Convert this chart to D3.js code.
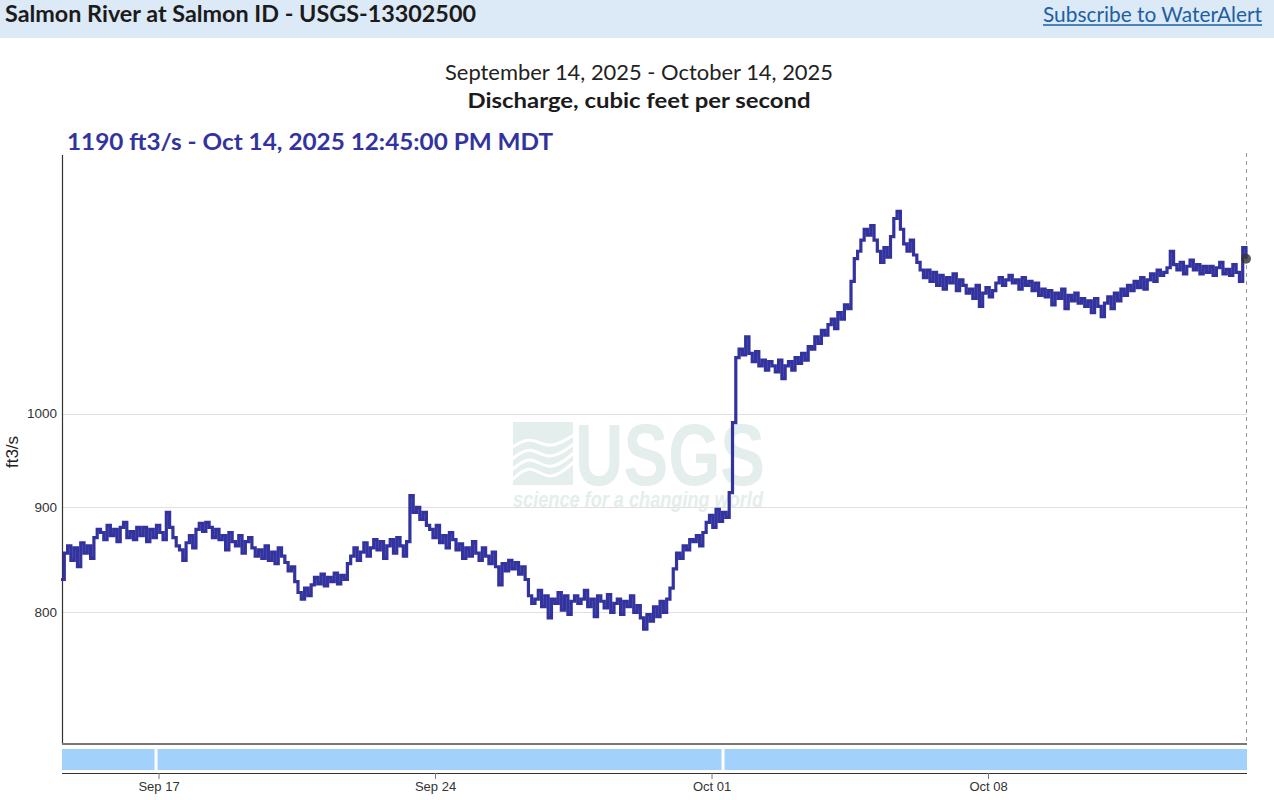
<!DOCTYPE html>
<html>
<head>
<meta charset="utf-8">
<script src="https://cdn.jsdelivr.net/npm/d3@7"></script>
<style>
  html, body { margin: 0; padding: 0; background: #fff; }
  svg { display: block; }
</style>
</head>
<body>
<svg id="chart" width="1274" height="800"></svg>
<script>
// ---- data ----
const stationTitle = "Salmon River at Salmon ID - USGS-13302500";
const linkText = "Subscribe to WaterAlert";
const dateRangeText = "September 14, 2025 - October 14, 2025";
const paramText = "Discharge, cubic feet per second";
const latestText = "1190 ft3/s - Oct 14, 2025 12:45:00 PM MDT";
const yLabel = "ft3/s";
const startTime = "2025-09-14T12:45:00Z";   // MDT shown as wall-clock
const endTime = "2025-10-14T12:45:00Z";
const stepHours = 2;
const yTicks = [800, 900, 1000];
const xTicks = ["2025-09-17", "2025-09-24", "2025-10-01", "2025-10-08"];
const barBreaks = ["2025-09-16T22:30:00Z", "2025-10-01T07:00:00Z"];
const discharge = [
  830, 855, 862, 848, 860, 842, 865, 855, 862, 850, 870, 878,
  875, 868, 882, 872, 878, 866, 880, 885, 870, 876, 868, 880,
  872, 880, 866, 878, 870, 882, 875, 868, 895, 880, 870, 862,
  858, 848, 865, 872, 860, 878, 884, 876, 885, 880, 870, 878,
  868, 872, 858, 875, 866, 862, 872, 855, 866, 870, 860, 852,
  858, 850, 862, 848, 856, 845, 860, 852, 846, 838, 842, 828,
  818, 812, 822, 815, 825, 832, 826, 835, 824, 832, 828, 836,
  826, 834, 830, 845, 852, 860, 848, 856, 865, 852, 860, 868,
  858, 866, 850, 862, 868, 855, 870, 862, 852, 866, 912, 895,
  900, 888, 895, 882, 878, 870, 882, 865, 872, 860, 875, 868,
  858, 864, 850, 860, 852, 866, 855, 848, 860, 852, 845, 856,
  842, 825, 845, 838, 848, 840, 846, 835, 842, 830, 815, 808,
  812, 820, 805, 815, 795, 812, 808, 818, 802, 815, 798, 810,
  815, 808, 812, 820, 805, 812, 796, 815, 810, 804, 816, 800,
  808, 812, 798, 810, 805, 815, 800, 806, 795, 785, 798, 792,
  805, 796, 810, 800, 812, 822, 840, 855, 850, 862, 858, 868,
  866, 872, 862, 875, 885, 892, 880, 898, 886, 895, 890, 915,
  990, 1065, 1075, 1068, 1090, 1070, 1060, 1072, 1055, 1062, 1050, 1060,
  1055, 1048, 1062, 1040, 1055, 1060, 1050, 1065, 1058, 1070, 1062, 1078,
  1075, 1090, 1082, 1098, 1092, 1105, 1112, 1100, 1120, 1112, 1130, 1125,
  1160, 1190, 1200, 1215, 1230, 1222, 1235, 1215, 1200, 1185, 1205, 1192,
  1220, 1245, 1255, 1230, 1210, 1200, 1215, 1195, 1185, 1175, 1165, 1175,
  1160, 1172, 1155, 1168, 1150, 1165, 1158, 1170, 1148, 1162, 1155, 1145,
  1150, 1138, 1155, 1128, 1145, 1152, 1140, 1148, 1158, 1165, 1155, 1162,
  1168, 1158, 1162, 1150, 1165, 1155, 1160, 1148, 1158, 1142, 1150, 1140,
  1148, 1130, 1145, 1138, 1150, 1125, 1142, 1135, 1145, 1132, 1138, 1128,
  1135, 1120, 1138, 1128, 1115, 1132, 1140, 1125, 1145, 1135, 1150, 1142,
  1155, 1148, 1160, 1152, 1165, 1150, 1162, 1170, 1160, 1175, 1168, 1172,
  1178, 1200, 1182, 1175, 1185, 1170, 1180, 1188, 1175, 1182, 1170, 1180,
  1172, 1180, 1168, 1178, 1185, 1170, 1176, 1168, 1182, 1172, 1160, 1205, 1190
];

// ---- build ----
const svg = d3.select("#chart");
const t0 = new Date(startTime), t1 = new Date(endTime);
const points = discharge.map((v, i) => ({ t: new Date(t0.getTime() + i * stepHours * 3600e3), v }));

const pL = 62, pR = 1247, pT = 155, pB = 744;
const x = d3.scaleUtc().domain([t0, t1]).range([61, 1246]);
const y = d3.scaleLog().domain([690, 1337]).range([pB, pT]);

const blue = "#3333a0";

// header
svg.append("rect").attr("x", 0).attr("y", 0).attr("width", 1274).attr("height", 38).attr("fill", "#dce9f6");
svg.append("text").attr("x", 5).attr("y", 22).attr("font-family", "Lato, 'Open Sans', sans-serif")
  .attr("font-weight", 700).attr("font-size", 22).attr("fill", "#1b1b1b")
  .attr("textLength", 471).attr("lengthAdjust", "spacingAndGlyphs").text(stationTitle);
svg.append("text").attr("x", 1262).attr("y", 22).attr("text-anchor", "end")
  .attr("font-family", "Lato, 'Open Sans', sans-serif").attr("font-size", 22).attr("fill", "#1d5fa3")
  .attr("textLength", 219).attr("lengthAdjust", "spacingAndGlyphs").text(linkText);
svg.append("line").attr("x1", 1043).attr("x2", 1262).attr("y1", 25).attr("y2", 25).attr("stroke", "#1d5fa3").attr("stroke-width", 1.5);

// titles
svg.append("text").attr("x", 639).attr("y", 80).attr("text-anchor", "middle")
  .attr("font-family", "Lato, 'Open Sans', sans-serif").attr("font-size", 21).attr("fill", "#222")
  .attr("textLength", 388).attr("lengthAdjust", "spacingAndGlyphs").text(dateRangeText);
svg.append("text").attr("x", 639).attr("y", 108).attr("text-anchor", "middle")
  .attr("font-family", "Lato, 'Open Sans', sans-serif").attr("font-weight", 700).attr("font-size", 21).attr("fill", "#1b1b1b")
  .attr("textLength", 343).attr("lengthAdjust", "spacingAndGlyphs").text(paramText);
svg.append("text").attr("x", 67).attr("y", 150)
  .attr("font-family", "Lato, 'Open Sans', sans-serif").attr("font-weight", 700).attr("font-size", 23).attr("fill", blue)
  .attr("textLength", 486).attr("lengthAdjust", "spacingAndGlyphs").text(latestText);

// gridlines
svg.append("g").selectAll("line").data(yTicks).join("line")
  .attr("x1", pL).attr("x2", pR).attr("y1", d => Math.round(y(d)) + 0.5).attr("y2", d => Math.round(y(d)) + 0.5)
  .attr("stroke", "#e0e0e0").attr("stroke-width", 1);

// watermark
const wm = svg.append("g").attr("fill", "#e4eeec");
wm.append("text").attr("x", 575).attr("y", 485).attr("font-family", "'Liberation Sans Narrow', 'Liberation Sans', sans-serif")
  .attr("font-weight", 700).attr("font-size", 88).attr("textLength", 190).attr("lengthAdjust", "spacingAndGlyphs").text("USGS");
wm.append("text").attr("x", 513).attr("y", 507).attr("font-family", "'Liberation Sans Narrow', 'Liberation Sans', sans-serif")
  .attr("font-weight", 700).attr("font-style", "italic").attr("font-size", 22)
  .attr("textLength", 250).attr("lengthAdjust", "spacingAndGlyphs").text("science for a changing world");
const wave = wm.append("g");
wave.append("rect").attr("x", 513).attr("y", 422).attr("width", 60).attr("height", 63);
const wl = d3.line().curve(d3.curveBasis);
[[440, 0], [452, 3], [463, 5], [473, 6]].forEach(([yy, a]) => {
  wave.append("path").attr("fill", "none").attr("stroke", "#fff").attr("stroke-width", 3)
    .attr("d", wl([[511, yy + 8], [530, yy - 4 - a], [550, yy + 10], [575, yy - 6 - a]]));
});

// axis lines
svg.append("line").attr("x1", pL + 0.5).attr("x2", pL + 0.5).attr("y1", pT).attr("y2", pB)
  .attr("stroke", "#333").attr("stroke-width", 1.2);
svg.append("line").attr("x1", pL).attr("x2", pR).attr("y1", pB).attr("y2", pB)
  .attr("stroke", "#777").attr("stroke-width", 2);
svg.append("line").attr("x1", pR - 0.5).attr("x2", pR - 0.5).attr("y1", 153).attr("y2", pB)
  .attr("stroke", "#999").attr("stroke-width", 1).attr("stroke-dasharray", "4,4");

// y tick labels
svg.append("g").selectAll("text").data(yTicks).join("text")
  .attr("x", 57).attr("y", d => y(d)).attr("dy", "0.35em").attr("text-anchor", "end")
  .attr("font-family", "'Liberation Sans', Arial, sans-serif").attr("font-size", 13.5).attr("fill", "#333")
  .text(d => d3.format("d")(d));
svg.append("text").attr("transform", "translate(18,452) rotate(-90)").attr("text-anchor", "middle")
  .attr("font-family", "'Liberation Sans', Arial, sans-serif").attr("font-size", 17).attr("fill", "#222").text(yLabel);

// line
svg.append("path").datum(points)
  .attr("fill", "none").attr("stroke", blue).attr("stroke-width", 3.2).attr("stroke-linejoin", "miter")
  .attr("d", d3.line().curve(d3.curveStepAfter).x(d => x(d.t)).y(d => y(d.v)));
const last = points[points.length - 1];
svg.append("circle").attr("cx", x(last.t)).attr("cy", y(last.v)).attr("r", 5)
  .attr("fill", "#333").attr("fill-opacity", 0.8);

// bottom bar
const breaks = barBreaks.map(d => new Date(d));
const edges = [t0, ...breaks, t1];
const segs = d3.pairs(edges);
svg.append("g").selectAll("rect").data(segs).join("rect")
  .attr("x", (d, i) => Math.max(pL, x(d[0]) + (i ? 1.5 : 0)))
  .attr("width", (d, i) => Math.min(pR, x(d[1]) - (i < segs.length - 1 ? 1.5 : -1)) - Math.max(pL, x(d[0]) + (i ? 1.5 : 0)))
  .attr("y", 749).attr("height", 21).attr("fill", "#a2d2fb");

// x axis
const xAxis = d3.axisBottom(x).tickValues(xTicks.map(d => new Date(d + "T00:00:00Z")))
  .tickFormat(d3.utcFormat("%b %d")).tickSize(6).tickSizeOuter(0);
const gx = svg.append("g").attr("transform", "translate(0,773)").call(xAxis);
gx.select(".domain").attr("stroke", "#333").attr("d", `M${pL},0.5H${pR}`);
gx.selectAll(".tick line").attr("stroke", "#777");
gx.selectAll(".tick text").attr("font-family", "'Liberation Sans', Arial, sans-serif").attr("font-size", 13)
  .attr("fill", "#333").attr("y", 9);
</script>
</body>
</html>
